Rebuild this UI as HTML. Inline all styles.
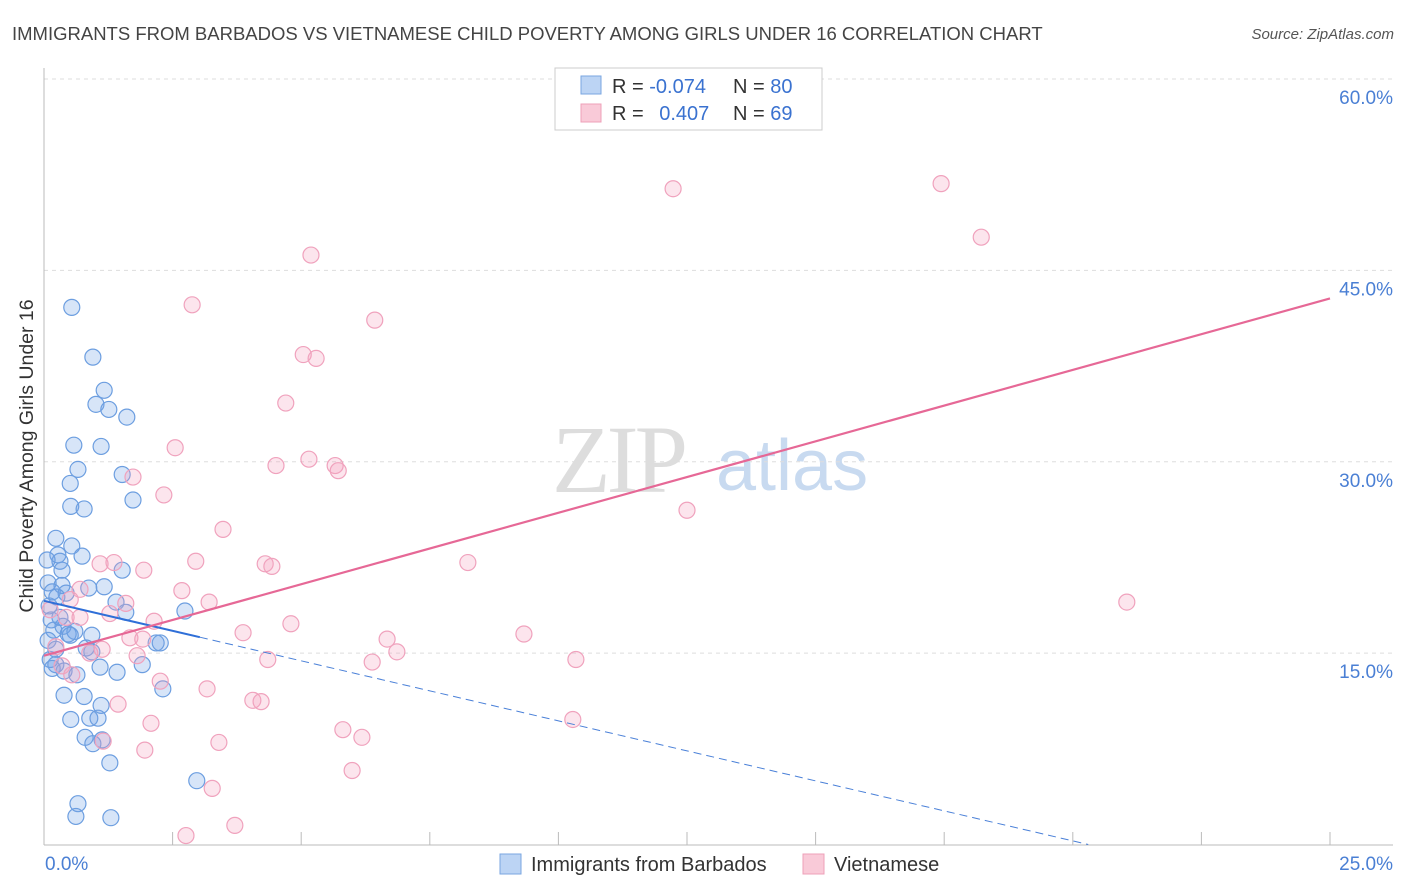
<!DOCTYPE html>
<html><head><meta charset="utf-8">
<style>
body{margin:0;background:#fff;font-family:"Liberation Sans",sans-serif;}
svg{display:block}
</style></head>
<body>
<svg id="chart" width="1406" height="892">
<text x="12" y="40" font-size="18.5" fill="#444">IMMIGRANTS FROM BARBADOS VS VIETNAMESE CHILD POVERTY AMONG GIRLS UNDER 16 CORRELATION CHART</text>
<text x="1394" y="39" font-size="15" fill="#555" font-style="italic" text-anchor="end">Source: ZipAtlas.com</text>
<g>
<text x="552" y="492" font-family="Liberation Serif,serif" font-size="96" fill="#ddd" letter-spacing="-4">ZIP</text>
<text x="716" y="490" font-size="72" fill="#c8daf0">atlas</text>
</g>
<g id="grid"></g>
<g id="pts"></g>
<g id="lines"></g>
<text transform="translate(33,456) rotate(-90)" font-size="19.5" fill="#333" text-anchor="middle">Child Poverty Among Girls Under 16</text>
<g>
<rect x="555" y="68" width="267" height="62" fill="#fff" stroke="#ccc"/>
<rect x="581" y="76" width="20" height="18" fill="#bcd4f4" stroke="#7aa6e0"/>
<rect x="581" y="104" width="20" height="18" fill="#f9cad8" stroke="#eea0b8"/>
<text x="612" y="93" font-size="20" fill="#333">R = <tspan fill="#3a72d0">-0.074</tspan></text>
<text x="733" y="93" font-size="20" fill="#333">N = <tspan fill="#3a72d0">80</tspan></text>
<text x="612" y="120" font-size="20" fill="#333">R = <tspan fill="#3a72d0" dx="10">0.407</tspan></text>
<text x="733" y="120" font-size="20" fill="#333">N = <tspan fill="#3a72d0">69</tspan></text>
</g>
<g>
<rect x="500" y="854" width="21" height="20" fill="#bcd4f4" stroke="#7aa6e0"/>
<text x="531" y="871" font-size="20" fill="#333">Immigrants from Barbados</text>
<rect x="803" y="854" width="21" height="20" fill="#f9cad8" stroke="#eea0b8"/>
<text x="834" y="871" font-size="20" fill="#333">Vietnamese</text>
</g>
</svg>
<script>
const yTicks=[15,30,45,60];
const yTickLabels=["15.0%","30.0%","45.0%","60.0%"];
const xTickCount=10;
const xMin=0,xMax=25;
const blueX=[0.54,0.95,1.17,1.01,1.26,1.61,0.58,1.11,0.66,0.51,1.52,1.73,0.52,0.78,0.23,0.54,0.27,0.74,0.31,0.06,0.35,1.52,0.08,0.35,0.87,1.17,0.16,0.43,0.25,1.40,1.59,2.74,0.10,0.14,0.19,0.37,0.47,0.60,0.93,2.26,2.18,0.82,0.93,0.12,0.23,0.39,0.64,1.09,1.42,1.91,2.31,0.39,0.78,1.11,0.89,1.05,0.52,0.80,0.95,1.13,1.28,2.97,0.66,0.62,1.30,0.08,0.16,0.31,0.51,0.23];
const blueY=[42.1,38.2,35.6,34.5,34.1,33.5,31.3,31.2,29.4,28.3,29.0,27.0,26.5,26.3,24.0,23.4,22.7,22.6,22.2,22.3,21.5,21.5,20.5,20.3,20.1,20.2,19.8,19.7,19.4,19.0,18.2,18.3,18.7,17.6,16.8,17.1,16.5,16.7,16.4,15.8,15.8,15.4,15.1,14.5,14.1,13.6,13.3,13.9,13.5,14.1,12.2,11.7,11.6,10.9,9.9,9.9,9.8,8.4,7.9,8.2,6.4,5.0,3.2,2.2,2.1,16.0,13.8,17.8,16.4,15.3];
const pinkX=[12.23,17.44,18.22,5.19,2.88,6.43,5.04,5.29,4.70,2.55,1.73,4.51,5.15,5.66,5.72,2.33,12.50,3.48,2.95,4.30,4.43,1.36,1.09,8.24,1.94,21.05,2.68,3.21,1.59,2.14,0.70,0.43,1.28,4.80,3.87,9.33,6.67,1.67,1.92,0.23,6.86,4.35,6.38,10.34,0.89,1.13,1.81,0.35,0.54,2.26,3.17,1.44,4.06,4.22,2.08,10.28,5.81,6.18,1.15,1.96,3.40,5.99,3.27,3.71,2.76,0.12,0.51,0.70];
const pinkY=[51.4,51.8,47.6,46.2,42.3,41.1,38.4,38.1,34.6,31.1,28.8,29.7,30.2,29.7,29.3,27.4,26.2,24.7,22.2,22.0,21.8,22.1,22.0,22.1,21.5,19.0,19.9,19.0,18.9,17.5,17.8,17.8,18.1,17.3,16.6,16.5,16.1,16.2,16.1,15.5,15.1,14.5,14.3,14.5,15.0,15.3,14.8,14.0,13.3,12.8,12.2,11.0,11.3,11.2,9.5,9.8,9.0,8.4,8.1,7.4,8.0,5.8,4.4,1.5,0.7,18.4,19.2,20.0];
const blueTrend=[19.1,20.3];   // y at x=0 and x-intercept
const blueSolidEnd=3.03;
const pinkTrend=[14.8,42.8];   // y at x=0 and x=25

const NS="http://www.w3.org/2000/svg";
const L=44,R=1330,T=79,B=844.5;
const sx=v=>L+(v-xMin)/(xMax-xMin)*(R-L);
const sy=v=>B-v/60*(B-T);
function mk(tag,attrs,parent){const e=document.createElementNS(NS,tag);for(const k in attrs)e.setAttribute(k,attrs[k]);parent.appendChild(e);return e;}
const grid=document.getElementById('grid');
yTicks.forEach((t,i)=>{
  const ln=mk('line',{x1:L,x2:1393,y1:sy(t),y2:sy(t),stroke:'#ddd','stroke-dasharray':'4,4'},grid);
  
  
  const tx=mk('text',{x:1393,y:sy(t)+25,'font-size':19,fill:'#4a7fd4','text-anchor':'end'},grid);
  tx.textContent=yTickLabels[i];
  
  
});
mk('line',{x1:L,x2:L,y1:68,y2:845,stroke:'#bbb'},grid);
mk('line',{x1:L,x2:1393,y1:845,y2:845,stroke:'#bbb'},grid);
for(let i=0;i<=xTickCount;i++){
  const x=sx(xMin+i*(xMax-xMin)/xTickCount);
  mk('line',{x1:x,x2:x,y1:832,y2:845,stroke:'#bbb'},grid);
}
const x0=mk('text',{x:45,y:870,'font-size':19,fill:'#4a7fd4'},grid);x0.textContent='0.0%';


const x1=mk('text',{x:1393,y:870,'font-size':19,fill:'#4a7fd4','text-anchor':'end'},grid);x1.textContent='25.0%';



const pts=document.getElementById('pts');
blueX.forEach((v,i)=>{
  const c=mk('circle',{cx:sx(v),cy:sy(blueY[i]),r:8,fill:'rgba(110,160,230,0.28)',stroke:'#6c9ee0','stroke-width':1.2},pts);
  
  
});
pinkX.forEach((v,i)=>{
  const c=mk('circle',{cx:sx(v),cy:sy(pinkY[i]),r:8,fill:'rgba(244,160,190,0.28)',stroke:'#f0a2bd','stroke-width':1.2},pts);
  
  
});
const lines=document.getElementById('lines');
const bslope=-blueTrend[0]/blueTrend[1];
const bl1=mk('line',{x1:sx(0),y1:sy(blueTrend[0]),x2:sx(blueSolidEnd),y2:sy(blueTrend[0]+bslope*blueSolidEnd),stroke:'#2f6fd8','stroke-width':2},lines);


const bl2=mk('line',{x1:sx(blueSolidEnd),y1:sy(blueTrend[0]+bslope*blueSolidEnd),x2:sx(blueTrend[1]),y2:sy(0),stroke:'#4a80d8','stroke-width':1,'stroke-dasharray':'8,5'},lines);


const pl=mk('line',{x1:sx(0),y1:sy(pinkTrend[0]),x2:sx(25),y2:sy(pinkTrend[1]),stroke:'#e66896','stroke-width':2.2},lines);


</script>
</body></html>
